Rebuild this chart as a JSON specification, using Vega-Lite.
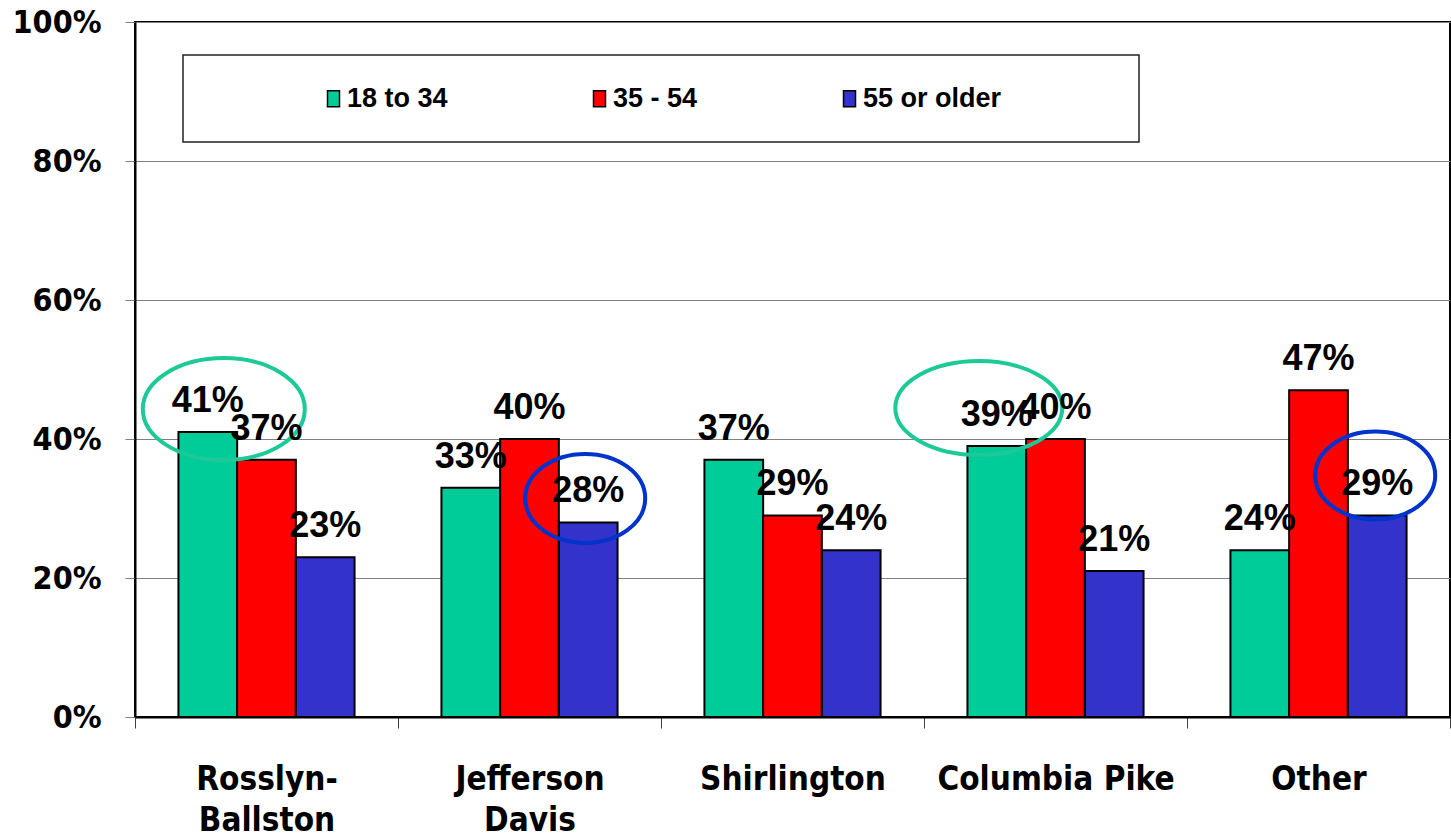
{
  "$schema": "https://vega.github.io/schema/vega-lite/v6.json",
  "width": 1315,
  "height": 695,
  "autosize": {"type": "none"},
  "padding": {"left": 135, "top": 22, "right": 1, "bottom": 117},
  "background": "white",
  "data": {
    "values": [
      {"region": "Rosslyn-Ballston", "age": "18 to 34", "value": 0.41},
      {"region": "Rosslyn-Ballston", "age": "35 - 54", "value": 0.37},
      {"region": "Rosslyn-Ballston", "age": "55 or older", "value": 0.23},
      {"region": "Jefferson Davis", "age": "18 to 34", "value": 0.33},
      {"region": "Jefferson Davis", "age": "35 - 54", "value": 0.40},
      {"region": "Jefferson Davis", "age": "55 or older", "value": 0.28},
      {"region": "Shirlington", "age": "18 to 34", "value": 0.37},
      {"region": "Shirlington", "age": "35 - 54", "value": 0.29},
      {"region": "Shirlington", "age": "55 or older", "value": 0.24},
      {"region": "Columbia Pike", "age": "18 to 34", "value": 0.39},
      {"region": "Columbia Pike", "age": "35 - 54", "value": 0.40},
      {"region": "Columbia Pike", "age": "55 or older", "value": 0.21},
      {"region": "Other", "age": "18 to 34", "value": 0.24},
      {"region": "Other", "age": "35 - 54", "value": 0.47},
      {"region": "Other", "age": "55 or older", "value": 0.29}
    ]
  },
  "encoding": {
    "x": {
      "field": "region",
      "type": "nominal",
      "sort": ["Rosslyn-Ballston", "Jefferson Davis", "Shirlington", "Columbia Pike", "Other"],
      "scale": {"paddingInner": 0, "paddingOuter": 0},
      "axis": {
        "title": null,
        "labelAngle": 0,
        "tickBand": "extent",
        "tickSize": 11,
        "tickColor": "#404040",
        "tickWidth": 1,
        "domainColor": "#000",
        "domainWidth": 2,
        "labelFont": "DejaVu Sans Condensed",
        "labelFontWeight": "bold",
        "labelFontSize": 33,
        "labelColor": "#000",
        "labelPadding": 35,
        "labelLineHeight": 41,
        "labelLimit": 400,
        "labelExpr": "datum.label == 'Rosslyn-Ballston' ? ['Rosslyn-', 'Ballston'] : datum.label == 'Jefferson Davis' ? ['Jefferson', 'Davis'] : datum.label"
      }
    },
    "xOffset": {
      "field": "age",
      "type": "nominal",
      "sort": ["18 to 34", "35 - 54", "55 or older"],
      "scale": {"paddingInner": 0, "paddingOuter": 0.74}
    },
    "y": {
      "field": "value",
      "type": "quantitative",
      "scale": {"domain": [0, 1]},
      "axis": {
        "title": null,
        "values": [0, 0.2, 0.4, 0.6, 0.8, 1],
        "format": ".0%",
        "labelFont": "DejaVu Sans Condensed",
        "labelFontWeight": "bold",
        "labelFontSize": 32,
        "labelColor": "#000",
        "labelPadding": 24,
        "tickSize": 10,
        "tickColor": "#808080",
        "domainColor": "#000",
        "domainWidth": 2,
        "grid": true,
        "gridColor": "#808080",
        "gridWidth": 1
      }
    }
  },
  "layer": [
    {
      "mark": {"type": "bar", "stroke": "#000", "strokeWidth": 2},
      "encoding": {
        "fill": {
          "field": "age",
          "type": "nominal",
          "sort": ["18 to 34", "35 - 54", "55 or older"],
          "scale": {"domain": ["18 to 34", "35 - 54", "55 or older"], "range": ["#00CC99", "#FF0000", "#3333CC"]},
          "legend": {
            "orient": "none",
            "legendX": 48,
            "legendY": 33,
            "direction": "horizontal",
            "title": " ",
            "titleOrient": "right",
            "titlePadding": 108,
            "padding": 30,
            "symbolOffset": 107,
            "columnPadding": 31,
            "labelOffset": 0,
            "strokeColor": "#222",
            "fillColor": "white",
            "symbolType": "M-0.75,-1H0.75V1H-0.75Z",
            "symbolSize": 256,
            "symbolStrokeColor": "#000",
            "symbolStrokeWidth": 1.5,
            "symbolOpacity": 1,
            "labelFont": "Liberation Sans",
            "labelFontWeight": "bold",
            "labelFontSize": 27,
            "labelColor": "#000",
            "labelLimit": 400
          }
        }
      }
    },
    {
      "transform": [{"filter": "datum.region == 'Rosslyn-Ballston' && datum.age == '18 to 34'"}],
      "mark": {"type": "point", "shape": "M-65,-23A81,51 0 1,0 97,-23A81,51 0 1,0 -65,-23Z", "size": 4, "filled": false, "stroke": "#1EC998", "strokeWidth": 4, "opacity": 1}
    },
    {
      "transform": [{"filter": "datum.region == 'Jefferson Davis' && datum.age == '55 or older'"}],
      "mark": {"type": "point", "shape": "M-63,-24A60,44.5 0 1,0 57,-24A60,44.5 0 1,0 -63,-24Z", "size": 4, "filled": false, "stroke": "#0033CC", "strokeWidth": 4, "opacity": 1}
    },
    {
      "transform": [{"filter": "datum.region == 'Columbia Pike' && datum.age == '18 to 34'"}],
      "mark": {"type": "point", "shape": "M-101.5,-38A83.5,47 0 1,0 65.5,-38A83.5,47 0 1,0 -101.5,-38Z", "size": 4, "filled": false, "stroke": "#1EC998", "strokeWidth": 4, "opacity": 1}
    },
    {
      "transform": [{"filter": "datum.region == 'Other' && datum.age == '55 or older'"}],
      "mark": {"type": "point", "shape": "M-62,-40A60,44 0 1,0 58,-40A60,44 0 1,0 -62,-40Z", "size": 4, "filled": false, "stroke": "#0033CC", "strokeWidth": 4, "opacity": 1}
    },
    {
      "mark": {"type": "text", "font": "Liberation Sans", "fontWeight": "bold", "fontSize": 36, "baseline": "alphabetic", "dy": -20, "color": "#000"},
      "encoding": {
        "text": {"field": "value", "type": "quantitative", "format": ".0%"}
      }
    }
  ],
  "config": {
    "view": {"stroke": "#000", "strokeWidth": 2},
    "legend": {"strokeWidth": 1.5}
  }
}
